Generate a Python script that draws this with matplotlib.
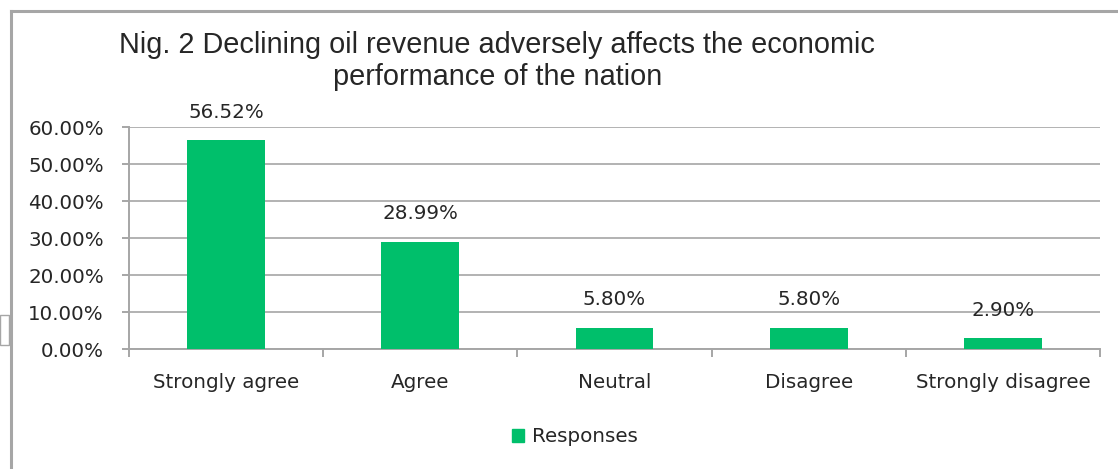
import matplotlib
matplotlib.use("Agg")
import matplotlib.pyplot as plt
from matplotlib.lines import Line2D
from matplotlib.patches import Rectangle
from matplotlib.ticker import FuncFormatter, MultipleLocator

categories = ["Strongly agree", "Agree", "Neutral", "Disagree", "Strongly disagree"]
responses = [56.52, 28.99, 5.80, 5.80, 2.90]
series_name = "Responses"
title = "Nig. 2 Declining oil revenue adversely affects the economic\nperformance of the nation"

W, H = 1118, 469
fig = plt.figure(figsize=(W / 100, H / 100), dpi=100)
fig.patch.set_facecolor("white")

grey = "#a6a6a6"
green = "#00bf6b"
txt = "#262626"
tick_font = "DejaVu Sans"
tick_size = 14.3

# chart frame (top and left edges) and the small handle on the left
fig.add_artist(Line2D([11 / W, 1.0], [1 - 11 / H, 1 - 11 / H], color=grey, lw=2.2))
fig.add_artist(Line2D([11 / W, 11 / W], [0, 1 - 11 / H], color=grey, lw=2.2))
fig.add_artist(Rectangle((0, 1 - 345 / H), 9 / W, 30 / H, fill=False,
                         edgecolor=grey, lw=1.0))

ax = fig.add_axes([129 / W, 1 - 349 / H, (1100 - 129) / W, (349 - 127) / H])
x = list(range(len(categories)))
ax.bar(x, responses, width=0.40, color=green, zorder=3, label=series_name)

ax.set_xlim(-0.5, len(categories) - 0.5)
ax.set_ylim(0, 60)
ax.yaxis.set_major_locator(MultipleLocator(10))
ax.yaxis.set_major_formatter(FuncFormatter(lambda v, _: f"{v:.2f}%"))
ax.grid(axis="y", color=grey, lw=1.2, zorder=0)

for s in ("top", "right"):
    ax.spines[s].set_visible(False)
for s in ("left", "bottom"):
    ax.spines[s].set_color(grey)
    ax.spines[s].set_linewidth(1.4)

ax.set_xticks(x)
ax.set_xticklabels(categories, fontsize=tick_size, color=txt, family=tick_font)
ax.tick_params(axis="x", length=0, pad=17)
ax.set_xticks([i + 0.5 for i in range(-1, len(categories))], minor=True)
ax.tick_params(axis="x", which="minor", length=6, color=grey, width=1.4, direction="out")
ax.tick_params(axis="y", length=5, color=grey, width=1.4, labelsize=tick_size,
               labelcolor=txt, pad=13)
for lab in ax.get_yticklabels():
    lab.set_family(tick_font)

for xi, v in zip(x, responses):
    ax.annotate(f"{v:.2f}%", (xi, v), xytext=(0, 20), textcoords="offset points",
                ha="center", va="center", fontsize=tick_size, color=txt,
                family=tick_font, zorder=4)

line1, line2 = title.split("\n")
fig.text(497 / W, 1 - 45 / H, line1, ha="center", va="center",
         fontsize=20.8, color=txt, family="Liberation Sans")
fig.text(498 / W, 1 - 77 / H, line2, ha="center", va="center",
         fontsize=20.8, color=txt, family="Liberation Sans")

leg = fig.legend(handles=[Rectangle((0, 0), 1, 1, color=green)], labels=[series_name],
                 loc="center", bbox_to_anchor=(575 / W, 1 - 437 / H), frameon=False,
                 handlelength=0.6, handleheight=0.6, handletextpad=0.45,
                 prop={"family": tick_font, "size": tick_size})
for t in leg.get_texts():
    t.set_color(txt)

fig.savefig("out.png", dpi=100, facecolor="white")
